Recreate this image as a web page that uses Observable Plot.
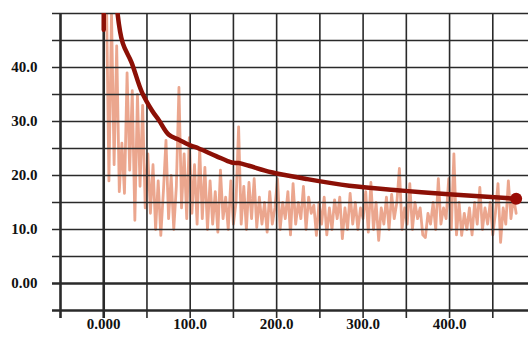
<!DOCTYPE html>
<html>
<head>
<meta charset="utf-8">
<script src="https://cdn.jsdelivr.net/npm/d3@7"></script>
<script src="https://cdn.jsdelivr.net/npm/@observablehq/plot@0.6"></script>
<style>
  html, body { margin: 0; padding: 0; background: #fff; }
</style>
</head>
<body>
<div id="chart"></div>
<script>
// Noisy per-step series (sampled every 3 units of x)
const noiseStep = 3;
const noiseValues = [
  48, 55, 19, 50, 22, 44, 17,
  26, 16.7, 39, 21,
  35.7, 11.7, 35, 18, 33,
  14, 24, 13, 22, 10,
  19, 8.9, 17, 26.5,
  12, 20, 10, 18, 36.3, 14,
  24, 12, 27, 13, 22, 11, 25,
  12, 21.5, 10, 19, 11, 17, 9.5, 21, 12, 16, 10, 19, 11,
  15, 29, 11, 18, 10,
  18.7, 12, 19.4, 10.4, 16, 11, 15, 9.5, 17, 11, 14,
  19.4, 10, 15, 12, 17, 9, 18.5,
  11, 15, 12, 18, 10, 16, 13, 14.5, 8.9, 15,
  11, 16, 9, 14, 10, 15.5, 12, 16, 8.3, 14, 10, 16.7, 11,
  15, 10, 14, 12, 17, 9.5, 18.7, 10, 15, 8, 14, 11, 16, 10, 16.5, 12, 15,
  21.3, 10, 14, 11, 18.5, 10, 15, 12, 14, 9, 8.5, 13, 11, 15,
  10, 19.4, 11, 14, 12, 19.4, 10, 24, 9,
  15, 8.9, 13, 10, 14, 9, 15, 11, 17.8, 10,
  14, 11, 15, 9, 13, 18.5, 7.6, 14, 11, 19, 12, 16, 13
];

// Smoothed running-average curve
const trendSeg = [0, 0, 1, 1, 1, 1, 1, 1, 1, 1, 1, 1, 1, 1, 1, 1, 1, 1, 1, 1, 1, 1, 1];
const trendX = [0, 0, 14, 16, 22, 32, 44, 56, 64, 75, 87, 100, 110, 130, 148, 156, 168, 194, 233, 284, 345, 403, 477];
const trendY = [58, 47, 56, 50, 44.5, 41, 35.5, 32, 30.2, 27.6, 26.6, 25.6, 25, 23.6, 22.4, 22.3, 21.8, 20.6, 19.4, 18.1, 17.2, 16.5, 15.7];

// Grid and tick values
const gridY = [-5, 0, 5, 10, 15, 20, 25, 30, 35, 40, 45, 50];
const gridX = [-50, 0, 50, 100, 150, 200, 250, 300, 350, 400, 450];
const thickY = [-5, 0];
const thickX = [-50, 0];
const yTicks = [0, 10, 20, 30, 40];
const xTicks = [0, 100, 200, 300, 400];
const yTickLabels = ["0.00", "10.0", "20.0", "30.0", "40.0"];
const xTickLabels = ["0.000", "100.0", "200.0", "300.0", "400.0"];

const noise = noiseValues.map((v, i) => ({x: i * noiseStep, y: v}));
const trend = trendX.map((x, i) => ({x, y: trendY[i], seg: trendSeg[i]}));
const last = trend[trend.length - 1];

const chart = Plot.plot({
  width: 528,
  height: 348,
  marginLeft: 60,
  marginRight: 0,
  marginTop: 13,
  marginBottom: 38,
  x: {domain: [-50, 491.3], label: null},
  y: {domain: [-5, 50], label: null},
  style: {
    background: "white",
    fontFamily: "'Liberation Serif', 'DejaVu Serif', serif",
    fontWeight: "bold",
    fontSize: "15px",
    color: "#111"
  },
  marks: [
    Plot.line(noise, {x: "x", y: "y", stroke: "#e99c82", strokeWidth: 2.8, strokeOpacity: 0.9, strokeLinejoin: "round", clip: true}),
    Plot.ruleY(gridY, {stroke: "#2a2a2a", strokeWidth: d => thickY.includes(d) ? 2.6 : 1.6, insetLeft: -8}),
    Plot.ruleX(gridX, {stroke: "#2a2a2a", strokeWidth: d => thickX.includes(d) ? 2.6 : 1.6, insetBottom: -8}),
    Plot.line(trend, {x: "x", y: "y", z: "seg", stroke: "#8c1006", strokeWidth: 4.5, curve: "catmull-rom", clip: true}),
    Plot.dot([last], {x: "x", y: "y", r: 6, fill: "#9a0c06", stroke: "none"}),
    Plot.axisY(yTicks, {label: null, tickSize: 0, tickPadding: 23, tickFormat: (d) => yTickLabels[yTicks.indexOf(d)], fill: "#111"}),
    Plot.axisX(xTicks, {label: null, tickSize: 0, tickPadding: 8, tickFormat: (d) => xTickLabels[xTicks.indexOf(d)], fill: "#111"})
  ]
});
document.getElementById("chart").appendChild(chart);
</script>
</body>
</html>
